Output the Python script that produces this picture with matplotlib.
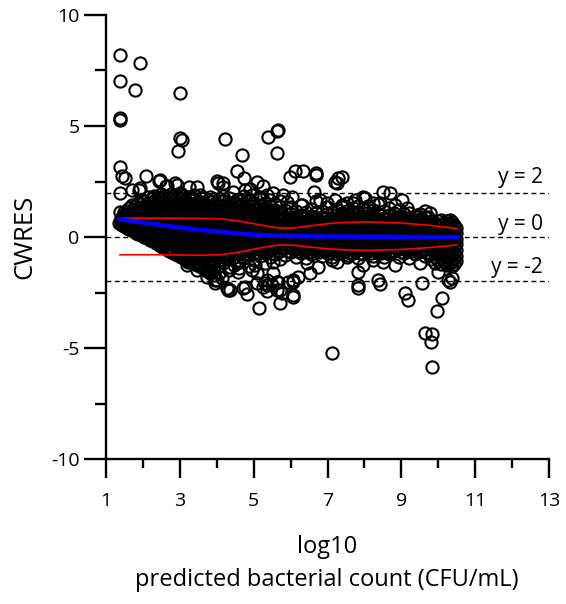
import numpy as np
import matplotlib
matplotlib.use('Agg')
import matplotlib.pyplot as plt

plt.rcParams['font.family'] = ['Open Sans', 'DejaVu Sans']
plt.rcParams['axes.unicode_minus'] = False

# dense cloud, read column by column: (log10 predicted count, [CWRES values])
tri_cols = [
    (1.40, [0.70, 0.85]),
    (1.47, [0.62, 0.78, 0.95]),
    (1.55, [0.55, 0.72, 0.90, 1.10]),
    (1.62, [0.48, 0.66, 0.85, 1.05, 1.30]),
    (1.70, [0.40, 0.60, 0.80, 1.00, 1.22, 1.45]),
    (1.78, [0.33, 0.52, 0.74, 0.95, 1.15, 1.38]),
    (1.86, [0.25, 0.45, 0.66, 0.88, 1.08, 1.30, 1.55]),
    (1.95, [0.18, 0.38, 0.58, 0.80, 1.02, 1.25, 1.48, 1.66]),
    (2.04, [0.10, 0.30, 0.52, 0.72, 0.95, 1.18, 1.40, 1.62]),
    (2.13, [0.00, 0.22, 0.44, 0.66, 0.88, 1.10, 1.33, 1.55, 1.78]),
    (2.22, [-0.08, 0.14, 0.36, 0.58, 0.80, 1.02, 1.25, 1.48, 1.70]),
    (2.31, [-0.16, 0.06, 0.28, 0.50, 0.73, 0.95, 1.18, 1.40, 1.62, 1.85]),
    (2.40, [-0.24, -0.02, 0.20, 0.42, 0.65, 0.88, 1.10, 1.33, 1.56, 1.78]),
    (2.49, [-0.32, -0.10, 0.12, 0.35, 0.58, 0.80, 1.02, 1.25, 1.48, 1.70, 1.92]),
    (2.58, [-0.40, -0.18, 0.05, 0.28, 0.50, 0.72, 0.95, 1.18, 1.40, 1.62, 1.85]),
    (2.67, [-0.48, -0.26, -0.03, 0.20, 0.42, 0.65, 0.88, 1.10, 1.32, 1.55, 1.78]),
    (2.76, [-0.55, -0.33, -0.10, 0.12, 0.35, 0.58, 0.80, 1.02, 1.25, 1.48, 1.70, 1.95]),
    (2.85, [-0.64, -0.42, -0.18, 0.05, 0.28, 0.50, 0.72, 0.95, 1.18, 1.40, 1.62, 1.85]),
    (2.94, [-0.72, -0.50, -0.26, -0.02, 0.20, 0.42, 0.65, 0.88, 1.10, 1.32, 1.55, 1.78]),
    (3.03, [-0.80, -0.58, -0.34, -0.10, 0.12, 0.35, 0.58, 0.80, 1.02, 1.25, 1.48, 1.70, 1.92]),
    (3.12, [-0.88, -0.65, -0.42, -0.18, 0.05, 0.28, 0.50, 0.72, 0.95, 1.18, 1.40, 1.62, 1.85]),
    (3.21, [-0.96, -0.72, -0.48, -0.25, -0.02, 0.20, 0.42, 0.65, 0.88, 1.10, 1.32, 1.55, 1.80]),
    (3.30, [-1.04, -0.80, -0.56, -0.32, -0.08, 0.15, 0.38, 0.60, 0.82, 1.05, 1.28, 1.50, 1.72]),
    (3.39, [-1.12, -0.88, -0.64, -0.40, -0.16, 0.08, 0.30, 0.52, 0.75, 0.98, 1.20, 1.42, 1.65, 1.88]),
    (3.48, [-1.20, -0.95, -0.70, -0.46, -0.22, 0.02, 0.25, 0.48, 0.70, 0.92, 1.15, 1.38, 1.60]),
    (3.57, [-1.28, -1.02, -0.78, -0.54, -0.30, -0.06, 0.18, 0.40, 0.62, 0.85, 1.08, 1.30, 1.52, 1.75]),
    (3.66, [-1.36, -1.10, -0.85, -0.60, -0.36, -0.12, 0.12, 0.35, 0.58, 0.80, 1.02, 1.25, 1.48]),
    (3.75, [-1.44, -1.18, -0.92, -0.68, -0.44, -0.20, 0.05, 0.28, 0.50, 0.72, 0.95, 1.18, 1.40, 1.65]),
    (3.84, [-1.52, -1.25, -1.00, -0.75, -0.50, -0.26, -0.02, 0.22, 0.45, 0.68, 0.90, 1.12, 1.35, 1.58]),
    (3.93, [-1.35, -1.08, -0.82, -0.56, -0.32, -0.08, 0.15, 0.38, 0.60, 0.82, 1.05, 1.28, 1.50, 1.72]),
]

band_cols = [
    (4.05, [-1.62, -1.30, -1.02, -0.75, -0.48, -0.20, 0.08, 0.35, 0.62, 0.90, 1.18, 1.45, 1.72]),
    (4.18, [-1.15, -0.88, -0.60, -0.32, -0.05, 0.22, 0.50, 0.78, 1.05, 1.32, 1.60, 1.85]),
    (4.32, [-1.50, -1.00, -0.74, -0.46, -0.18, 0.10, 0.38, 0.65, 0.92, 1.20, 1.48, 1.75]),
    (4.46, [-1.25, -0.92, -0.62, -0.34, -0.06, 0.22, 0.50, 0.78, 1.05, 1.32, 1.58]),
    (4.60, [-1.40, -1.08, -0.78, -0.50, -0.20, 0.08, 0.35, 0.62, 0.90, 1.18, 1.45, 1.70]),
    (4.74, [-0.95, -0.65, -0.36, -0.08, 0.20, 0.48, 0.75, 1.02, 1.30, 1.55, 1.85]),
    (4.88, [-1.30, -0.82, -0.52, -0.22, 0.06, 0.34, 0.62, 0.88, 1.15, 1.42, 1.68]),
    (5.02, [-1.05, -0.70, -0.40, -0.10, 0.18, 0.46, 0.74, 1.00, 1.28, 1.55]),
    (5.16, [-0.85, -0.55, -0.26, 0.02, 0.30, 0.58, 0.85, 1.12, 1.40, 1.70]),
    (5.30, [-1.15, -0.72, -0.42, -0.12, 0.16, 0.44, 0.72, 0.98, 1.25, 1.52]),
    (5.44, [-0.90, -0.58, -0.28, 0.00, 0.28, 0.56, 0.84, 1.10, 1.38, 1.65]),
    (5.58, [-0.75, -0.45, -0.15, 0.12, 0.40, 0.68, 0.95, 1.22, 1.50]),
    (5.72, [-1.00, -0.62, -0.32, -0.03, 0.25, 0.52, 0.80, 1.08, 1.35, 1.62]),
    (5.86, [-0.80, -0.48, -0.18, 0.10, 0.38, 0.65, 0.92, 1.20]),
    (6.00, [-0.68, -0.36, -0.06, 0.22, 0.50, 0.78, 1.05, 1.35]),
    (6.14, [-0.88, -0.55, -0.25, 0.05, 0.33, 0.60, 0.88, 1.15]),
    (6.28, [-0.72, -0.42, -0.12, 0.16, 0.44, 0.72, 1.00, 1.45]),
    (6.42, [-0.95, -0.60, -0.30, 0.00, 0.28, 0.56, 0.84, 1.12]),
    (6.56, [-0.78, -0.46, -0.16, 0.12, 0.40, 0.68, 0.95, 1.25]),
    (6.70, [-0.65, -0.34, -0.04, 0.24, 0.52, 0.80, 1.08, 1.60]),
    (6.84, [-0.85, -0.52, -0.22, 0.06, 0.34, 0.62, 0.90, 1.18]),
    (6.98, [-0.70, -0.40, -0.10, 0.18, 0.46, 0.74, 1.02, 1.35]),
    (7.12, [-0.92, -0.58, -0.28, 0.00, 0.28, 0.56, 0.84, 1.12]),
    (7.26, [-0.75, -0.45, -0.15, 0.13, 0.41, 0.69, 0.97, 1.28]),
    (7.40, [-0.62, -0.32, -0.02, 0.26, 0.54, 0.82, 1.10, 1.45]),
    (7.54, [-0.88, -0.55, -0.24, 0.05, 0.33, 0.61, 0.89, 1.18]),
    (7.68, [-0.72, -0.40, -0.10, 0.18, 0.46, 0.74, 1.02, 1.32]),
    (7.82, [-0.95, -0.60, -0.30, 0.00, 0.28, 0.56, 0.84, 1.12, 1.40]),
    (7.96, [-0.78, -0.46, -0.16, 0.12, 0.40, 0.68, 0.96, 1.25]),
    (8.10, [-0.65, -0.34, -0.04, 0.24, 0.52, 0.80, 1.08, 1.38]),
    (8.24, [-0.85, -0.52, -0.22, 0.06, 0.34, 0.62, 0.90, 1.20]),
    (8.38, [-0.70, -0.40, -0.10, 0.18, 0.46, 0.74, 1.02, 1.50]),
    (8.52, [-0.92, -0.58, -0.28, 0.00, 0.28, 0.56, 0.84, 1.15]),
    (8.66, [-0.75, -0.45, -0.15, 0.13, 0.41, 0.69, 0.97, 1.30]),
    (8.80, [-0.62, -0.32, -0.02, 0.26, 0.54, 0.82, 1.10]),
    (8.94, [-0.88, -0.55, -0.24, 0.05, 0.33, 0.61, 0.89, 1.20]),
    (9.08, [-0.72, -0.40, -0.10, 0.18, 0.46, 0.74, 1.02]),
    (9.22, [-0.95, -0.60, -0.30, 0.00, 0.28, 0.56, 0.84, 1.10]),
    (9.36, [-0.78, -0.46, -0.16, 0.12, 0.40, 0.68, 0.96]),
    (9.50, [-0.65, -0.34, -0.04, 0.24, 0.52, 0.80, 1.05]),
    (9.64, [-0.85, -0.52, -0.22, 0.06, 0.34, 0.62, 0.90, 1.15]),
]

# second pass over the darkest part of the band (between the columns above)
core_cols = [
    (4.11, [-0.62, -0.34, -0.06, 0.22, 0.50, 0.78, 1.05, 1.32]),
    (4.25, [-0.75, -0.47, -0.19, 0.09, 0.37, 0.65, 0.92, 1.20]),
    (4.39, [-0.60, -0.32, -0.04, 0.24, 0.52, 0.80, 1.08, 1.35]),
    (4.53, [-0.72, -0.44, -0.16, 0.12, 0.40, 0.68, 0.95, 1.22]),
    (4.67, [-0.58, -0.30, -0.02, 0.26, 0.54, 0.82, 1.10, 1.38]),
    (4.81, [-0.70, -0.42, -0.14, 0.14, 0.42, 0.70, 0.98, 1.25]),
    (4.95, [-0.56, -0.28, 0.00, 0.28, 0.56, 0.84, 1.12]),
    (5.09, [-0.68, -0.40, -0.12, 0.16, 0.44, 0.72, 1.00, 1.26]),
    (5.23, [-0.54, -0.26, 0.02, 0.30, 0.58, 0.86, 1.14]),
    (5.37, [-0.66, -0.38, -0.10, 0.18, 0.46, 0.74, 1.02]),
    (5.51, [-0.52, -0.24, 0.04, 0.32, 0.60, 0.88, 1.15]),
    (5.65, [-0.64, -0.36, -0.08, 0.20, 0.48, 0.76, 1.02]),
    (5.79, [-0.50, -0.22, 0.06, 0.34, 0.62, 0.90]),
    (5.93, [-0.62, -0.34, -0.06, 0.22, 0.50, 0.78]),
    (6.07, [-0.52, -0.24, 0.04, 0.32, 0.60, 0.88]),
    (6.21, [-0.64, -0.36, -0.08, 0.20, 0.48, 0.76]),
    (6.35, [-0.54, -0.26, 0.02, 0.30, 0.58, 0.86]),
    (6.49, [-0.66, -0.38, -0.10, 0.18, 0.46, 0.74]),
    (6.63, [-0.56, -0.28, 0.00, 0.28, 0.56, 0.84]),
    (6.77, [-0.68, -0.40, -0.12, 0.16, 0.44, 0.72]),
    (6.91, [-0.58, -0.30, -0.02, 0.26, 0.54, 0.82]),
    (7.05, [-0.70, -0.42, -0.14, 0.14, 0.42, 0.70]),
    (7.19, [-0.60, -0.32, -0.04, 0.24, 0.52, 0.80]),
    (7.33, [-0.72, -0.44, -0.16, 0.12, 0.40, 0.68, 0.95]),
    (7.47, [-0.62, -0.34, -0.06, 0.22, 0.50, 0.78]),
    (7.61, [-0.74, -0.46, -0.18, 0.10, 0.38, 0.66, 0.92]),
    (7.75, [-0.64, -0.36, -0.08, 0.20, 0.48, 0.76]),
    (7.89, [-0.74, -0.46, -0.18, 0.10, 0.38, 0.66, 0.94]),
    (8.03, [-0.62, -0.34, -0.06, 0.22, 0.50, 0.78]),
    (8.17, [-0.72, -0.44, -0.16, 0.12, 0.40, 0.68, 0.96]),
    (8.31, [-0.60, -0.32, -0.04, 0.24, 0.52, 0.80]),
    (8.45, [-0.70, -0.42, -0.14, 0.14, 0.42, 0.70, 0.98]),
    (8.59, [-0.58, -0.30, -0.02, 0.26, 0.54, 0.82]),
    (8.73, [-0.68, -0.40, -0.12, 0.16, 0.44, 0.72]),
    (8.87, [-0.56, -0.28, 0.00, 0.28, 0.56, 0.84]),
    (9.01, [-0.66, -0.38, -0.10, 0.18, 0.46, 0.74]),
    (9.15, [-0.54, -0.26, 0.02, 0.30, 0.58, 0.86]),
    (9.29, [-0.64, -0.36, -0.08, 0.20, 0.48, 0.76]),
    (9.43, [-0.52, -0.24, 0.04, 0.32, 0.60, 0.88]),
    (9.57, [-0.62, -0.34, -0.06, 0.22, 0.50, 0.78]),
    (9.71, [-0.72, -0.44, -0.16, 0.12, 0.40, 0.68, 0.92]),
]

cluster_cols = [
    (9.80, [-1.00, -0.75, -0.50, -0.25, 0.00, 0.25, 0.50, 0.72]),
    (9.90, [-1.15, -0.88, -0.62, -0.38, -0.12, 0.12, 0.38, 0.62]),
    (9.99, [-1.05, -0.80, -0.55, -0.30, -0.05, 0.20, 0.45, 0.70]),
    (10.08, [-1.20, -0.95, -0.70, -0.45, -0.20, 0.05, 0.30, 0.55, 0.78]),
    (10.16, [-1.10, -0.85, -0.60, -0.35, -0.10, 0.15, 0.40, 0.65]),
    (10.24, [-1.28, -1.02, -0.78, -0.52, -0.28, -0.02, 0.22, 0.48, 0.72]),
    (10.31, [-1.18, -0.92, -0.66, -0.42, -0.16, 0.08, 0.34, 0.58, 0.76]),
    (10.38, [-1.32, -1.08, -0.82, -0.56, -0.30, -0.05, 0.20, 0.45, 0.68]),
    (10.44, [-1.22, -0.96, -0.70, -0.44, -0.18, 0.06, 0.30, 0.55]),
    (10.49, [-1.10, -0.84, -0.58, -0.32, -0.08, 0.16, 0.40]),
]

# points along the sharp lower edge of the cloud
edge_x = [1.36, 1.40, 1.44, 1.48, 1.53, 1.58, 1.63, 1.69, 1.75, 1.82, 1.88, 1.95,
          2.02, 2.10, 2.18, 2.26, 2.35, 2.44, 2.53, 2.62, 2.72, 2.82, 2.92, 3.02,
          3.13, 3.24, 3.35, 3.46, 3.57, 3.68, 3.80, 3.92]
edge_y = [0.62, 0.58, 0.55, 0.51, 0.47, 0.42, 0.38, 0.32, 0.27, 0.20, 0.15, 0.09,
          0.02, -0.05, -0.12, -0.19, -0.27, -0.35, -0.44, -0.52, -0.61, -0.70, -0.79, -0.88,
          -0.98, -1.07, -1.17, -1.27, -1.37, -1.47, -1.58, -1.69]

# scattered points above the cloud
upper_pts = [
    (1.38, 8.20), (1.92, 7.84), (1.38, 7.03), (1.79, 6.62), (3.01, 6.49),
    (1.38, 5.36), (1.38, 5.27), (3.01, 4.46), (3.06, 4.37), (2.95, 3.87),
    (4.22, 4.41), (5.39, 4.50), (5.66, 4.82), (5.63, 4.77), (5.63, 3.78),
    (4.69, 3.69), (1.38, 3.15), (1.43, 2.75), (1.51, 2.66), (2.08, 2.75),
    (4.55, 2.97), (4.74, 2.66), (5.99, 2.70), (6.12, 2.97), (6.34, 2.97),
    (6.69, 2.88), (6.69, 2.79), (7.21, 2.48), (7.29, 2.66), (7.26, 2.43),
    (2.44, 2.52), (2.63, 2.30), (2.87, 2.43), (2.92, 2.34), (4.01, 2.52),
    (4.04, 2.43), (5.09, 2.48), (5.25, 2.30), (1.70, 2.12), (1.89, 2.12),
    (1.92, 2.21), (1.38, 1.98), (1.38, 1.13), (1.49, 1.13), (1.57, 1.13),
    (6.64, 2.03), (3.25, 2.25), (3.47, 2.25), (4.17, 2.25), (4.17, 2.43),
    (4.44, 2.03), (4.90, 2.16), (5.36, 1.89), (5.53, 1.98), (5.80, 1.89),
    (7.40, 2.70), (8.51, 2.03), (8.70, 1.98), (9.02, 1.67), (7.69, 1.53),
    (8.02, 1.76), (8.24, 1.53), (9.16, 1.31), (9.43, 0.99), (9.78, 1.08),
    (4.55, 1.67), (4.77, 2.12), (4.96, 1.89), (4.98, 1.53), (5.17, 1.80),
    (5.91, 1.58), (6.04, 1.80), (6.31, 1.44), (6.80, 1.67), (6.99, 1.53),
    (7.21, 1.67), (7.40, 1.35), (7.53, 1.53), (7.75, 1.67), (7.96, 1.80),
    (8.43, 1.53), (8.83, 1.44), (7.56, 0.90), (7.83, 1.08), (2.46, 2.57),
    (2.65, 2.30), (2.27, 1.80), (3.01, 1.98), (3.55, 1.89), (3.82, 1.80),
]

# scattered points below the cloud
lower_pts = [
    (3.22, -1.13), (3.47, -1.49), (3.55, -1.26), (3.82, -1.62), (4.01, -1.94),
    (4.28, -2.30), (3.95, -1.94), (3.20, -1.26), (3.74, -1.80), (4.36, -2.39),
    (3.95, -2.07), (4.31, -2.39), (4.71, -2.30), (4.82, -2.57), (5.09, -2.07),
    (5.36, -2.16), (5.36, -2.43), (5.15, -3.20), (5.72, -2.39), (5.77, -2.52),
    (5.72, -2.97), (6.07, -2.70), (6.07, -2.03), (5.63, -2.03), (4.14, -1.85),
    (4.36, -1.35), (4.58, -1.58), (4.55, -1.17), (4.96, -1.49), (5.09, -1.62),
    (5.04, -1.26), (5.31, -2.07), (5.53, -1.62), (5.66, -2.03), (6.07, -1.94),
    (6.20, -1.80), (5.93, -2.03), (6.45, -1.17), (6.53, -1.62), (6.75, -1.35),
    (7.12, -1.04), (7.26, -1.13), (5.36, -1.94), (5.53, -1.13), (4.77, -2.25),
    (5.25, -2.25), (5.50, -2.16), (5.63, -2.39), (6.07, -2.61), (7.12, -5.23),
    (7.83, -1.58), (7.96, -1.26), (7.83, -2.16), (7.83, -2.30), (8.37, -1.94),
    (8.43, -2.12), (9.10, -2.50), (9.18, -2.84), (9.56, -2.05), (9.97, -3.33),
    (10.11, -2.75), (10.00, -1.58), (10.27, -1.94), (10.32, -2.03), (10.38, -1.85),
    (7.56, -0.81), (8.24, -1.04), (8.51, -1.13), (8.83, -1.26), (9.51, -1.17),
    (8.02, -0.45), (9.64, -4.32), (9.83, -4.37), (9.81, -4.73), (9.83, -5.86),
]

# smoothers
loess_x = [1.38, 1.8, 2.3, 2.8, 3.3, 3.8, 4.3, 4.8, 5.3, 5.8, 6.5, 7.5, 8.5, 9.5, 10.5]
loess_y = [0.80, 0.70, 0.58, 0.47, 0.37, 0.28, 0.20, 0.13, 0.08, 0.05, 0.03, 0.02, 0.01, 0.00, 0.00]
band_x = [1.38, 2.5, 3.5, 4.1, 4.6, 5.0, 5.4, 5.72, 6.1, 6.5, 7.0, 7.5, 8.1, 9.0, 9.8, 10.5]
band_hi = [0.85, 0.85, 0.84, 0.82, 0.72, 0.60, 0.48, 0.40, 0.41, 0.50, 0.60, 0.66, 0.68, 0.63, 0.52, 0.38]
band_lo = [-0.80, -0.80, -0.82, -0.80, -0.68, -0.55, -0.42, -0.36, -0.37, -0.45, -0.53, -0.58, -0.60, -0.56, -0.47, -0.36]

ref_lines = [2, 0, -2]
ref_labels = ['y = 2', 'y = 0', 'y = -2']
ref_label_y = [2.43, 0.32, -1.62]

# flatten everything into x / y arrays
xs, ys = [], []
for cols in (tri_cols, band_cols, core_cols, cluster_cols):
    for cx, vals in cols:
        xs += [cx] * len(vals)
        ys += vals
xs += edge_x
ys += edge_y
for p in upper_pts + lower_pts:
    xs.append(p[0])
    ys.append(p[1])
xs = np.array(xs)
ys = np.array(ys)

fig = plt.figure(figsize=(5.66, 6.04), dpi=100)
ax = fig.add_axes([106 / 566, 1 - 459 / 604, (549 - 106) / 566, (459 - 15) / 604])

ax.plot(xs, ys, 'o', ls='none', mfc='none', mec='black', ms=8.8, mew=1.5, zorder=2)

for yv in ref_lines:
    ax.axhline(yv, color='black', lw=1.0, ls=(0, (3.5, 2.5)), zorder=3)
for lab, yv in zip(ref_labels, ref_label_y):
    ax.text(12.84, yv, lab, ha='right', va='baseline', fontsize=15)

ax.plot(band_x, band_hi, color='red', lw=1.2, zorder=4)
ax.plot(band_x, band_lo, color='red', lw=1.2, zorder=4)
ax.plot(loess_x, loess_y, color='blue', lw=3.2, zorder=5)

ax.set_xlim(1, 13)
ax.set_ylim(-10, 10)
ax.set_xticks(range(1, 14, 2))
ax.set_xticks(range(2, 13, 2), minor=True)
ax.set_yticks([-10, -5, 0, 5, 10])
ax.set_yticks([-7.5, -2.5, 2.5, 7.5], minor=True)
for s in ['top', 'right']:
    ax.spines[s].set_visible(False)
for s in ['left', 'bottom']:
    ax.spines[s].set_linewidth(1.7)
ax.tick_params(axis='y', which='major', length=16, width=1.7, pad=3, labelsize=14)
ax.tick_params(axis='y', which='minor', length=8, width=1.7)
ax.tick_params(axis='x', which='major', length=14, width=1.7, pad=10, labelsize=14)
ax.tick_params(axis='x', which='minor', length=6.5, width=1.7)

fig.text(25 / 566, 1 - 237 / 604, 'CWRES', rotation=90, ha='center', va='center', fontsize=18.5)
fig.text(327 / 566, 1 - 547 / 604, 'log10', ha='center', va='center', fontsize=17)
fig.text(327 / 566, 1 - 580 / 604, 'predicted bacterial count (CFU/mL)', ha='center', va='center', fontsize=17)

fig.savefig('out.png', dpi=100)
